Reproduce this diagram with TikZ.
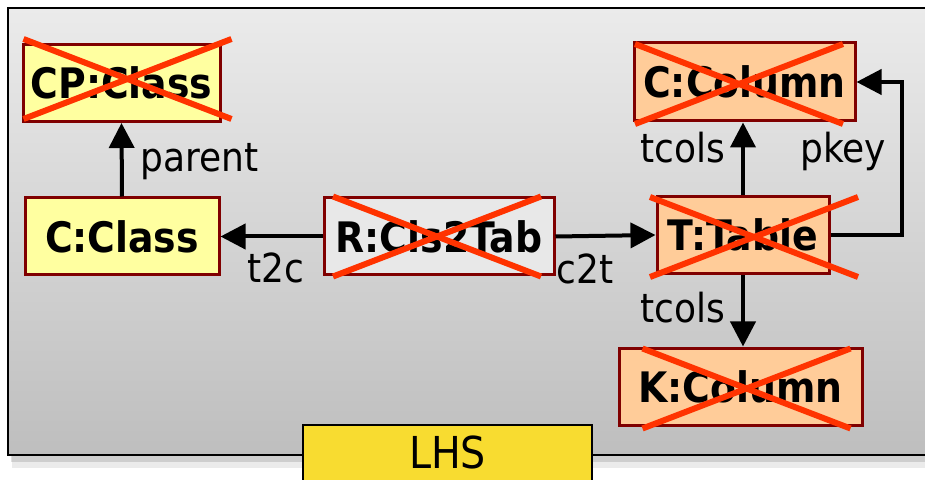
\documentclass[tikz,border=0pt]{standalone}
\usepackage{fontspec}
\setmainfont{DejaVu Sans Condensed}
\usetikzlibrary{calc}
\usetikzlibrary{arrows.meta}
\definecolor{dred}{HTML}{800000}
\definecolor{clsyellow}{HTML}{FFFFA0}
\definecolor{tabpeach}{HTML}{FFCC99}
\definecolor{relgray}{HTML}{E8E8E8}
\definecolor{xred}{HTML}{FF3300}
\definecolor{lhsgold}{HTML}{F8DC30}
\definecolor{bgtop}{HTML}{EBEBEB}
\definecolor{bgbot}{HTML}{BEBEBE}
\newcommand\crossout[2]{%
  \draw[xout] ($(#1)+(#2)+(-104,-40)$) -- ($(#1)+(#2)+(104,40)$);
  \draw[xout] ($(#1)+(#2)+(-104,40)$) -- ($(#1)+(#2)+(104,-40)$);}

\begin{document}
\begin{tikzpicture}[x=0.5pt,y=-0.5pt,
  obj/.style={draw=dred, line width=1.5pt, inner sep=0pt, minimum height=38.5pt,
    font=\bfseries\fontsize{21}{21}\selectfont},
  cls/.style={obj, fill=clsyellow},
  tab/.style={obj, fill=tabpeach},
  rel/.style={obj, fill=relgray},
  xout/.style={xred, line width=3pt},
  arr/.style={line width=2pt, -{Triangle[length=12.5pt,width=12.5pt]}},
  lbl/.style={inner sep=0pt, font=\fontsize{20}{20}\selectfont}]
\clip (0,0) rectangle (925,480);
\fill[white] (0,0) rectangle (925,480);

% frame
\fill[black,opacity=0.08] (12,456) rectangle (940,468);
\fill[black,opacity=0.12] (11,456) rectangle (940,462);
\draw[line width=1pt, top color=bgtop, bottom color=bgbot] (8,8) rectangle (940,455);

% nodes
\node[cls, minimum width=98.5pt] (CP) at (121.5,83) {CP:Class};
\node[cls, minimum width=97pt] (C) at (122,236.5) {C:Class};
\node[rel, minimum width=115pt] (R) at (439,236.5) {R:Cls2Tab};
\node[tab, minimum width=110.5pt, minimum height=39pt] (CC) at (744.5,82) {C:Column};
\node[tab, minimum width=86pt] (T) at (743,235) {T:Table};
\node[tab, minimum width=121.5pt] (K) at (740.5,386.5) {K:Column};
\coordinate (pk) at (902,82);

% links
\draw[arr] (C.north) -- (CP.south);
\draw[arr] (R.west) -- (C.east);
\draw[arr] (R.east) -- (T.west);
\draw[arr] (T.north) -- (T.north |- CC.south);
\draw[arr] (T.south) -- (T.south |- K.north);
\draw[arr] (T.east) -| (pk) -- (CC.east);

\node[lbl, anchor=base west] at (140,172) {parent};
\node[lbl, anchor=base west] at (247,283) {t2c};
\node[lbl, anchor=base west] at (556,284) {c2t};
\node[lbl, anchor=base west] at (640,163) {tcols};
\node[lbl, anchor=base west] at (800,163) {pkey};
\node[lbl, anchor=base west] at (640,322) {tcols};

% deleted elements
\crossout{CP}{6,-4}
\crossout{R}{-2,0}
\crossout{CC}{-5.5,2}
\crossout{T}{11,2}
\crossout{K}{6,2}

% LHS tag, open at the bottom edge
\node[fill=lhsgold, inner sep=0pt, minimum width=144.5pt, minimum height=27.5pt,
  font=\fontsize{22}{22}\selectfont] (lhs) at (447.5,452.5) {LHS};
\draw[line width=1pt] (lhs.south west) |- (lhs.north east) -- (lhs.south east);
\end{tikzpicture}
\end{document}
